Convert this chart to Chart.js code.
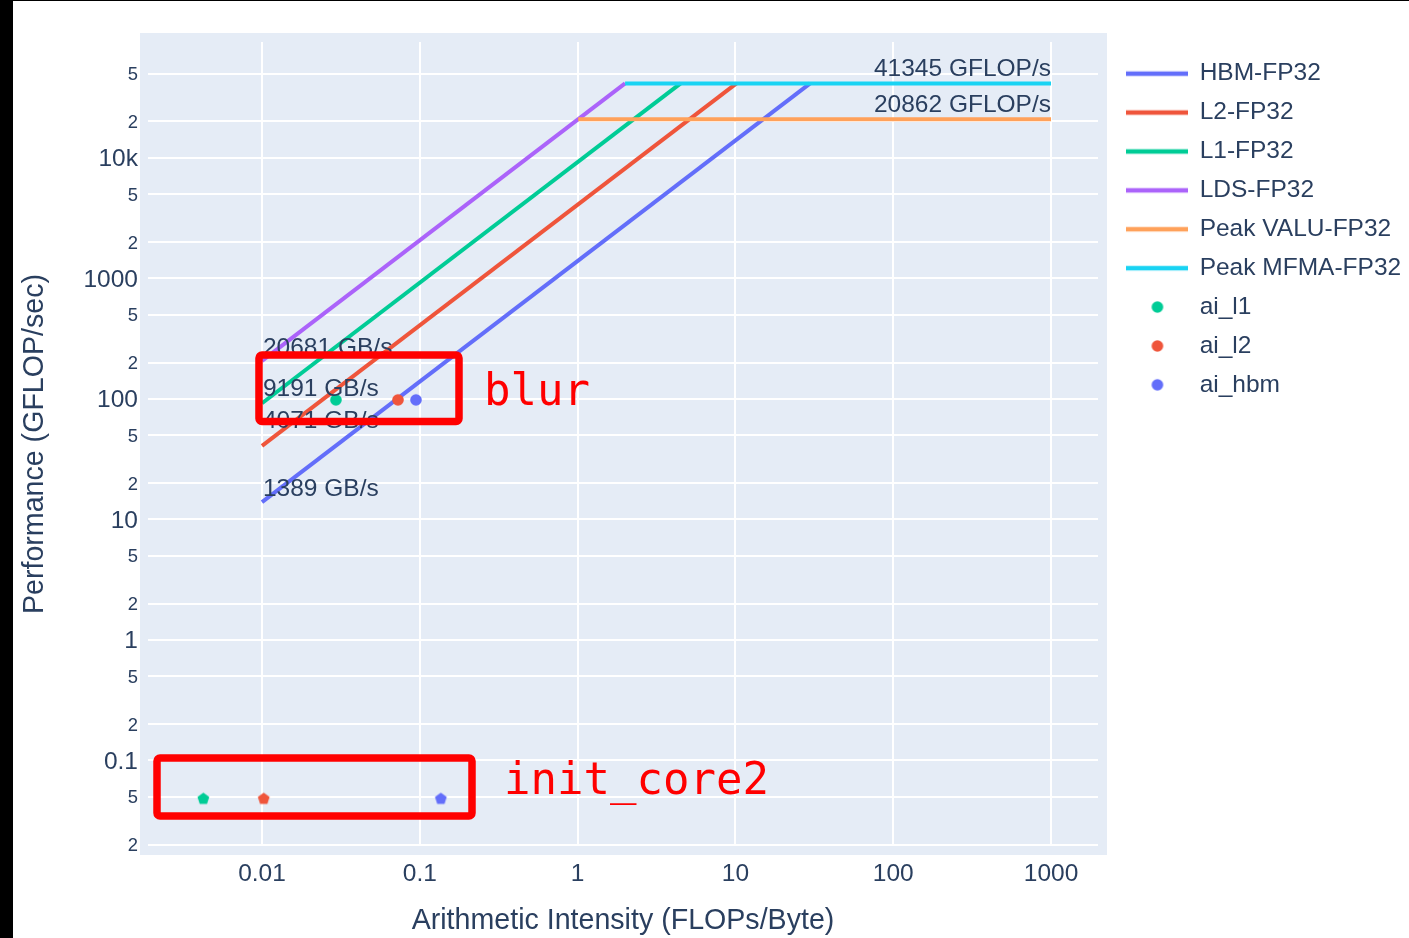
<!DOCTYPE html>
<html>
<head>
<meta charset="utf-8">
<title>Roofline</title>
<script src="https://cdn.jsdelivr.net/npm/chart.js@4.4.1/dist/chart.umd.min.js"></script>
<style>
  html, body { margin: 0; padding: 0; background: #ffffff; }
  #wrap { position: relative; width: 1409px; height: 938px; overflow: hidden; background: #ffffff; }
  #roofline { position: absolute; left: 0; top: 0; }
  .edge { position: absolute; background: #000000; }
  #edgeLeft { left: 0; top: 0; width: 13px; height: 938px; }
  #edgeTop { left: 0; top: 0; width: 1409px; height: 1px; }
</style>
</head>
<body>
<div id="wrap">
  <canvas id="roofline" width="1409" height="938"></canvas>
  <div class="edge" id="edgeLeft"></div>
  <div class="edge" id="edgeTop"></div>
</div>
<script>
// ---- Roofline ceilings ----
const MEMORY_LEVELS = ['HBM-FP32', 'L2-FP32', 'L1-FP32', 'LDS-FP32'];
const MEMORY_BANDWIDTH = [1389, 4071, 9191, 20681];          // GB/s
const PEAK_NAMES = ['Peak VALU-FP32', 'Peak MFMA-FP32'];
const PEAK_GFLOPS = [20862, 41345];                          // GFLOP/s
const AI_START = 0.01;
const AI_END = 1000;

// ---- Kernel measurements (first entry: blur, second: init_core2) ----
const POINT_NAMES = ['ai_l1', 'ai_l2', 'ai_hbm'];
const POINT_AI = [[0.0294, 0.00425], [0.0727, 0.01025], [0.0946, 0.136]];
const POINT_PERF = [[98, 0.048], [98, 0.048], [98, 0.048]];
const KERNEL_NAMES = ['blur', 'init_core2'];

// ---- Axis ticks ----
const X_TICKS = [0.01, 0.1, 1, 10, 100, 1000];
const X_TICK_LABELS = ['0.01', '0.1', '1', '10', '100', '1000'];
const Y_TICKS = [0.02, 0.05, 0.1, 0.2, 0.5, 1, 2, 5, 10, 20, 50, 100, 200, 500, 1000, 2000, 5000, 10000, 20000, 50000];
const Y_TICK_LABELS = ['2', '5', '0.1', '2', '5', '1', '2', '5', '10', '2', '5', '100', '2', '5', '1000', '2', '5', '10k', '2', '5'];
const X_RANGE = [0.001895, 1985];
const Y_RANGE = [0.01953, 91260];

// ---- Styling ----
const FONT = '"Liberation Sans", Arial, sans-serif';
const TEXT_COLOR = '#2a3f5f';
const TEXT_SIZE = 24.5;
const MINOR_TEXT_SIZE = 18.4;
const TITLE_SIZE = 28.6;
const MEMORY_COLORS = ['#636efa', '#EF553B', '#00cc96', '#ab63fa'];
const PEAK_COLORS = ['#FFA15A', '#19d3f3'];
const POINT_COLORS = ['#00cc96', '#EF553B', '#636efa'];
const LINE_WIDTH = 4;
// how far each bandwidth caption sits above the start of its ceiling (px)
const BW_CAPTION_LIFT = [6, 18, 7, 6];

Chart.defaults.font.family = FONT;
Chart.defaults.color = TEXT_COLOR;

// Small canvas glyphs used as point styles (plot markers and legend keys)
function lineGlyph(color) {
  const c = document.createElement('canvas');
  c.width = 62; c.height = 8;
  const g = c.getContext('2d');
  g.strokeStyle = color; g.lineWidth = 4.4;
  g.beginPath(); g.moveTo(0, 4); g.lineTo(62, 4); g.stroke();
  return c;
}
function dotGlyph(color, r) {
  const s = Math.ceil(r * 2 + 4);
  const c = document.createElement('canvas');
  c.width = s; c.height = s;
  const g = c.getContext('2d');
  g.fillStyle = color;
  g.beginPath(); g.arc(s / 2, s / 2, r, 0, Math.PI * 2); g.fill();
  return c;
}
function pentagonGlyph(color, r) {
  const s = Math.ceil(r * 2 + 4);
  const c = document.createElement('canvas');
  c.width = s; c.height = s;
  const g = c.getContext('2d');
  g.fillStyle = color;
  g.beginPath();
  for (let k = 0; k < 5; k++) {
    const a = -Math.PI / 2 + k * 2 * Math.PI / 5;
    const px = s / 2 + r * Math.cos(a), py = s / 2 + r * Math.sin(a);
    if (k === 0) g.moveTo(px, py); else g.lineTo(px, py);
  }
  g.closePath(); g.fill();
  return c;
}

// ---- Datasets ----
const topPeak = Math.max(...PEAK_GFLOPS);
const topBandwidth = Math.max(...MEMORY_BANDWIDTH);
const datasets = [];

MEMORY_LEVELS.forEach((name, i) => {
  const bw = MEMORY_BANDWIDTH[i];
  datasets.push({
    label: name,
    data: [{ x: AI_START, y: bw * AI_START }, { x: topPeak / bw, y: topPeak }],
    showLine: true, borderColor: MEMORY_COLORS[i], backgroundColor: MEMORY_COLORS[i],
    borderWidth: LINE_WIDTH, pointRadius: 0, fill: false,
    legendGlyph: lineGlyph(MEMORY_COLORS[i])
  });
});
PEAK_NAMES.forEach((name, i) => {
  const p = PEAK_GFLOPS[i];
  datasets.push({
    label: name,
    data: [{ x: p / topBandwidth, y: p }, { x: AI_END, y: p }],
    showLine: true, borderColor: PEAK_COLORS[i], backgroundColor: PEAK_COLORS[i],
    borderWidth: LINE_WIDTH, pointRadius: 0, fill: false,
    legendGlyph: lineGlyph(PEAK_COLORS[i])
  });
});
POINT_NAMES.forEach((name, i) => {
  const dot = dotGlyph(POINT_COLORS[i], 5.8);
  const pent = pentagonGlyph(POINT_COLORS[i], 6.2);
  datasets.push({
    label: name,
    data: POINT_AI[i].map((ai, k) => ({ x: ai, y: POINT_PERF[i][k] })),
    showLine: false, borderColor: POINT_COLORS[i], backgroundColor: POINT_COLORS[i],
    pointRadius: 6, pointStyle: [dot, pent],
    legendGlyph: dot
  });
});
// later traces are painted over earlier ones
datasets.forEach((d, i) => { d.order = datasets.length - i; });

// ---- Plugins ----
const plotBackground = {
  id: 'plotBackground',
  beforeDraw(chart) {
    const { ctx, chartArea: a } = chart;
    ctx.save();
    ctx.fillStyle = '#E5ECF6';
    ctx.fillRect(a.left - 8, a.top - 9, a.right - a.left + 17, a.bottom - a.top + 18);
    ctx.restore();
  }
};

const LEGEND_WIDTH = 311;
const legendPlacement = {
  id: 'legendPlacement',
  beforeLayout(chart) {
    const lg = chart.legend;
    if (lg && !lg.__fixedWidth) {
      const fit = lg.fit;
      lg.fit = function () { fit.call(this); this.width = LEGEND_WIDTH; };
      lg.__fixedWidth = true;
    }
  },
  afterLayout(chart) {
    const lg = chart.legend;
    if (!lg) return;
    lg.left += 15; lg.right += 15;
    lg.top += 5; lg.bottom += 5;
  }
};

const ceilingLabels = {
  id: 'ceilingLabels',
  afterDatasetsDraw(chart) {
    const { ctx, scales: { x, y } } = chart;
    ctx.save();
    ctx.font = TEXT_SIZE + 'px ' + FONT;
    ctx.fillStyle = TEXT_COLOR;
    ctx.textBaseline = 'alphabetic';
    ctx.textAlign = 'left';
    MEMORY_BANDWIDTH.forEach((bw, i) => {
      ctx.fillText(bw + ' GB/s', x.getPixelForValue(AI_START) + 1,
        y.getPixelForValue(bw * AI_START) - BW_CAPTION_LIFT[i]);
    });
    ctx.textAlign = 'right';
    PEAK_GFLOPS.forEach((p) => {
      ctx.fillText(p + ' GFLOP/s', x.getPixelForValue(AI_END), y.getPixelForValue(p) - 7);
    });
    ctx.restore();
  }
};

// Red call-outs naming the kernel that each group of markers belongs to
const KERNEL_BOXES = [
  { x0: 0.00957, x1: 0.1772, y0: 64.9, y1: 231.1, dx: 25, dy: 17 },
  { x0: 0.002161, x1: 0.2142, y0: 0.03465, y1: 0.1049, dx: 32, dy: 7 }
];
const kernelCallouts = {
  id: 'kernelCallouts',
  afterDraw(chart) {
    const { ctx, scales: { x, y } } = chart;
    ctx.save();
    ctx.strokeStyle = '#ff0000';
    ctx.fillStyle = '#ff0000';
    ctx.lineWidth = 7.5;
    ctx.lineJoin = 'round';
    ctx.font = '44px "DejaVu Sans Mono", monospace';
    ctx.textAlign = 'left';
    ctx.textBaseline = 'alphabetic';
    KERNEL_BOXES.forEach((b, i) => {
      const l = x.getPixelForValue(b.x0), r = x.getPixelForValue(b.x1);
      const t = y.getPixelForValue(b.y1), btm = y.getPixelForValue(b.y0);
      ctx.beginPath();
      ctx.roundRect(l, t, r - l, btm - t, 3);
      ctx.stroke();
      ctx.fillText(KERNEL_NAMES[i], r + b.dx, (t + btm) / 2 + b.dy);
    });
    ctx.restore();
  }
};

// ---- Chart ----
new Chart(document.getElementById('roofline'), {
  type: 'scatter',
  data: { datasets },
  options: {
    responsive: false,
    animation: false,
    events: [],
    layout: { padding: { top: 42, left: 0, right: 0, bottom: 0 } },
    plugins: {
      tooltip: { enabled: false },
      legend: {
        position: 'right',
        align: 'start',
        labels: {
          usePointStyle: true,
          pointStyleWidth: 60,
          padding: 14.4,
          color: TEXT_COLOR,
          font: { size: TEXT_SIZE, family: FONT },
          generateLabels(chart) {
            return chart.data.datasets.map((d, i) => ({
              text: d.label,
              pointStyle: d.legendGlyph,
              fillStyle: d.backgroundColor,
              strokeStyle: d.borderColor,
              lineWidth: 0,
              hidden: false,
              datasetIndex: i,
              fontColor: TEXT_COLOR
            }));
          }
        }
      }
    },
    scales: {
      x: {
        type: 'logarithmic',
        position: 'bottom',
        min: X_RANGE[0], max: X_RANGE[1],
        bounds: 'data',
        afterBuildTicks(scale) { scale.ticks = X_TICKS.map(v => ({ value: v })); },
        afterFit(scale) { scale.height = 92; },
        ticks: {
          callback: (v, i) => X_TICK_LABELS[i],
          autoSkip: false, maxRotation: 0, minRotation: 0,
          padding: 14, color: TEXT_COLOR,
          font: { size: TEXT_SIZE }
        },
        grid: { color: '#ffffff', lineWidth: 2, drawTicks: false },
        border: { display: false },
        title: {
          display: true, text: 'Arithmetic Intensity (FLOPs/Byte)',
          color: TEXT_COLOR, font: { size: TITLE_SIZE }, padding: { top: 0, bottom: 0 }
        }
      },
      y: {
        type: 'logarithmic',
        position: 'left',
        min: Y_RANGE[0], max: Y_RANGE[1],
        bounds: 'data',
        afterBuildTicks(scale) { scale.ticks = Y_TICKS.map(v => ({ value: v })); },
        afterFit(scale) { scale.width = 148; },
        ticks: {
          callback: (v, i) => Y_TICK_LABELS[i],
          autoSkip: false,
          padding: 10, labelOffset: 1.5, color: TEXT_COLOR,
          font: (c) => {
            const lbl = Y_TICK_LABELS[c.index];
            return { size: (lbl === '2' || lbl === '5') ? MINOR_TEXT_SIZE : TEXT_SIZE, family: FONT };
          }
        },
        grid: { color: '#ffffff', lineWidth: 2, drawTicks: false },
        border: { display: false },
        title: {
          display: true, text: 'Performance (GFLOP/sec)',
          color: TEXT_COLOR, font: { size: TITLE_SIZE }, padding: { top: 18, bottom: 0 }
        }
      }
    }
  },
  plugins: [plotBackground, legendPlacement, ceilingLabels, kernelCallouts]
});
</script>
</body>
</html>
